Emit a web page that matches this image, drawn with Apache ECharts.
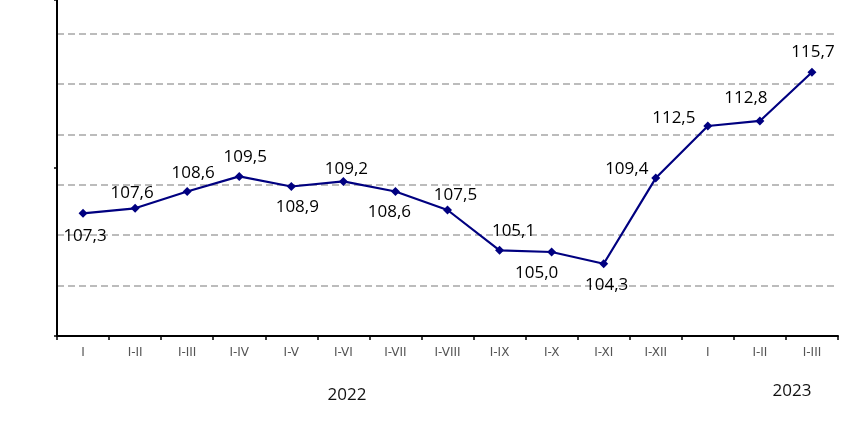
<!DOCTYPE html>
<html>
<head>
<meta charset="utf-8">
<script src="https://cdn.jsdelivr.net/npm/echarts@6/dist/echarts.min.js"></script>
<style>
  html, body { margin: 0; padding: 0; background: #fff; }
  #main { width: 868px; height: 424px; }
</style>
</head>
<body>
<div id="main"></div>
<script>
// подписи оси X (месяцы нарастающим итогом)
var categories = ['I', 'I-II', 'I-III', 'I-IV', 'I-V', 'I-VI', 'I-VII', 'I-VIII',
  'I-IX', 'I-X', 'I-XI', 'I-XII', 'I', 'I-II', 'I-III'];
var values = [107.3, 107.6, 108.6, 109.5, 108.9, 109.2, 108.6, 107.5,
  105.1, 105.0, 104.3, 109.4, 112.5, 112.8, 115.7];
var years = ['2022', '2023'];

// смещения подписей относительно точки
var labelOffsets = [
  [2, 23], [-3, -15], [6, -18], [6, -19], [6, 21], [3, -12], [-6, 21], [8, -15],
  [14, -19], [-15, 21], [3, 21], [-29, -9], [-34, -8], [-14, -23], [1, -20]
];

var myChart = echarts.init(document.getElementById('main'));

var seriesData = values.map(function (v, i) {
  return {
    value: v,
    label: { offset: labelOffsets[i] }
  };
});

var option = {
  animation: false,
  grid: {
    left: 57,
    right: 30,
    top: 0,
    bottom: 88
  },
  xAxis: {
    type: 'category',
    data: categories,
    boundaryGap: true,
    axisLine: { lineStyle: { color: '#000', width: 2 } },
    axisTick: { show: true, length: 4, lineStyle: { color: '#000', width: 1.5 } },
    axisLabel: {
      color: '#555',
      fontFamily: 'DejaVu Sans',
      fontSize: 12,
      margin: 11,
      interval: 0
    }
  },
  yAxis: [
    {
      type: 'value',
      min: 100,
      max: 120,
      interval: 3,
      axisLine: { show: true, lineStyle: { color: '#000', width: 2 } },
      axisTick: { show: false },
      axisLabel: { show: false },
      splitLine: {
        show: true,
        showMinLine: false,
        showMaxLine: false,
        lineStyle: { color: '#a6a6a6', width: 1.5, type: [7, 4] }
      }
    },
    {
      type: 'value',
      position: 'left',
      min: 100,
      max: 120,
      interval: 10,
      axisLine: { show: false },
      axisTick: { show: true, length: 3, lineStyle: { color: '#000', width: 1.5 } },
      axisLabel: { show: false },
      splitLine: { show: false }
    }
  ],
  series: [
    {
      type: 'line',
      data: seriesData,
      symbol: 'diamond',
      symbolSize: 9,
      itemStyle: { color: '#000080' },
      lineStyle: { color: '#000080', width: 2.2 },
      label: {
        show: true,
        position: 'inside',
        color: '#000',
        fontFamily: 'Open Sans',
        fontSize: 17,
        formatter: function (p) {
          return p.value.toFixed(1).replace('.', ',');
        }
      }
    }
  ],
  graphic: [
    {
      type: 'text',
      x: 347, y: 395,
      style: {
        text: years[0], fill: '#111', font: '17px "Open Sans"',
        textAlign: 'center', textVerticalAlign: 'middle'
      }
    },
    {
      type: 'text',
      x: 792, y: 391,
      style: {
        text: years[1], fill: '#111', font: '17px "Open Sans"',
        textAlign: 'center', textVerticalAlign: 'middle'
      }
    }
  ]
};

myChart.setOption(option);
</script>
</body>
</html>
